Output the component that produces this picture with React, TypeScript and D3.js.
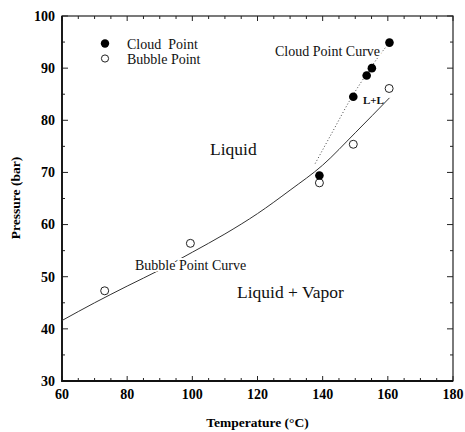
import React, { useEffect, useRef } from 'react';
import * as d3 from 'd3';

// measured cloud points (filled) and bubble points (open)
const cloudT = [160.5, 155.1, 153.5, 149.4, 139.0];
const cloudP = [94.9, 90.0, 88.6, 84.5, 69.4];
const bubbleT = [73.1, 99.4, 139.0, 149.4, 160.4];
const bubbleP = [47.3, 56.4, 68.0, 75.4, 86.1];

// fitted curves
const bubbleCurveT = [60, 70, 80, 90, 100, 110, 120, 130, 140, 150, 160.5];
const bubbleCurveP = [41.6, 45.0, 48.2, 51.3, 54.7, 58.2, 62.1, 66.6, 71.4, 77.6, 84.3];
const cloudCurveT = [137.7, 143.3, 148.4, 153.5, 157.6, 160.5];
const cloudCurveP = [71.7, 78.1, 83.9, 88.9, 92.6, 94.9];

const xTicks = [60, 80, 100, 120, 140, 160, 180];
const yTicks = [30, 40, 50, 60, 70, 80, 90, 100];

const W = 465, H = 432;
const m = { left: 62, right: 453, top: 16, bottom: 381 };
const serif = '"Liberation Serif", "Times New Roman", serif';

export default function App() {
  const ref = useRef<SVGSVGElement>(null);

  useEffect(() => {
    const svg = d3.select(ref.current);
    svg.selectAll('*').remove();

    const x = d3.scaleLinear().domain([60, 180]).range([m.left, m.right]);
    const y = d3.scaleLinear().domain([30, 100]).range([m.bottom, m.top]);

    // minor + major ticks, pointing inward on all sides
    const g = svg.append('g').attr('stroke', '#222').attr('stroke-width', 1);
    d3.range(60, 181, 5).forEach(v => {
      const len = v % 20 === 0 ? 5 : 3;
      g.append('line').attr('x1', x(v)).attr('x2', x(v)).attr('y1', m.bottom).attr('y2', m.bottom - len);
      g.append('line').attr('x1', x(v)).attr('x2', x(v)).attr('y1', m.top).attr('y2', m.top + len);
    });
    d3.range(30, 101, 5).forEach(v => {
      const len = v % 10 === 0 ? 6 : 3;
      g.append('line').attr('y1', y(v)).attr('y2', y(v)).attr('x1', m.left).attr('x2', m.left + len);
      g.append('line').attr('y1', y(v)).attr('y2', y(v)).attr('x1', m.right).attr('x2', m.right - len);
    });

    // frame
    svg.append('rect')
      .attr('x', m.left).attr('y', m.top)
      .attr('width', m.right - m.left).attr('height', m.bottom - m.top)
      .attr('fill', 'none').attr('stroke', '#222').attr('stroke-width', 1.2);
    svg.append('path')
      .attr('d', `M${m.left},${m.top}V${m.bottom}H${m.right}`)
      .attr('fill', 'none').attr('stroke', '#111').attr('stroke-width', 1.8);

    // tick labels
    svg.append('g').selectAll('text').data(xTicks).enter().append('text')
      .attr('x', d => x(d)).attr('y', 399)
      .attr('text-anchor', 'middle')
      .attr('font-family', serif).attr('font-weight', 'bold').attr('font-size', 14)
      .text(d => d);
    svg.append('g').selectAll('text').data(yTicks).enter().append('text')
      .attr('x', 55).attr('y', d => y(d)).attr('dy', '0.35em')
      .attr('text-anchor', 'end')
      .attr('font-family', serif).attr('font-weight', 'bold').attr('font-size', 14)
      .text(d => d);

    // axis titles
    svg.append('text')
      .attr('x', (m.left + m.right) / 2).attr('y', 427)
      .attr('text-anchor', 'middle')
      .attr('font-family', serif).attr('font-weight', 'bold').attr('font-size', 13.5)
      .text('Temperature (°C)');
    svg.append('text')
      .attr('transform', 'translate(20,198) rotate(-90)')
      .attr('text-anchor', 'middle')
      .attr('font-family', serif).attr('font-weight', 'bold').attr('font-size', 13.5)
      .text('Pressure (bar)');

    const line = d3.line<number>()
      .x((d, i) => x(d))
      .curve(d3.curveMonotoneX);

    // bubble point curve (solid)
    svg.append('path')
      .attr('d', line.y((d, i) => y(bubbleCurveP[i]))(bubbleCurveT))
      .attr('fill', 'none').attr('stroke', '#333').attr('stroke-width', 1);

    // cloud point curve (dotted)
    svg.append('path')
      .attr('d', line.y((d, i) => y(cloudCurveP[i]))(cloudCurveT))
      .attr('fill', 'none').attr('stroke', '#444').attr('stroke-width', 1)
      .attr('stroke-dasharray', '1,2.2');

    // region + curve labels, white halo so curves break under the text
    const label = (tx: number, ty: number, s: string, size: number, bold = false) =>
      svg.append('text')
        .attr('x', tx).attr('y', ty)
        .attr('font-family', serif).attr('font-size', size)
        .attr('font-weight', bold ? 'bold' : 'normal')
        .attr('fill', '#111')
        .text(s);

    label(135, 270, 'Bubble Point Curve', 14)
      .attr('stroke', '#fff').attr('stroke-width', 4).attr('paint-order', 'stroke');
    label(275, 56, 'Cloud Point Curve', 14)
      .attr('stroke', '#fff').attr('stroke-width', 3).attr('paint-order', 'stroke');
    label(210, 155, 'Liquid', 17.5);
    label(237, 298, 'Liquid + Vapor', 17.5);
    label(363, 104, 'L+L', 11, true);

    // data points
    svg.append('g').selectAll('circle').data(bubbleT).enter().append('circle')
      .attr('cx', d => x(d)).attr('cy', (d, i) => y(bubbleP[i])).attr('r', 4)
      .attr('fill', '#fff').attr('stroke', '#222').attr('stroke-width', 1);
    svg.append('g').selectAll('circle').data(cloudT).enter().append('circle')
      .attr('cx', d => x(d)).attr('cy', (d, i) => y(cloudP[i])).attr('r', 4.3)
      .attr('fill', '#000');

    // legend
    svg.append('circle').attr('cx', 105).attr('cy', 43.5).attr('r', 4.2).attr('fill', '#000');
    svg.append('circle').attr('cx', 105).attr('cy', 58.5).attr('r', 3.6)
      .attr('fill', '#fff').attr('stroke', '#222').attr('stroke-width', 1);
    label(127, 48.5, 'Cloud  Point', 14).attr('style', 'white-space: pre');
    label(127, 64, 'Bubble Point', 14);
  }, []);

  return (
    <svg ref={ref} width={W} height={H}
      style={{ position: 'absolute', left: 0, top: 0, background: '#fff' }} />
  );
}
